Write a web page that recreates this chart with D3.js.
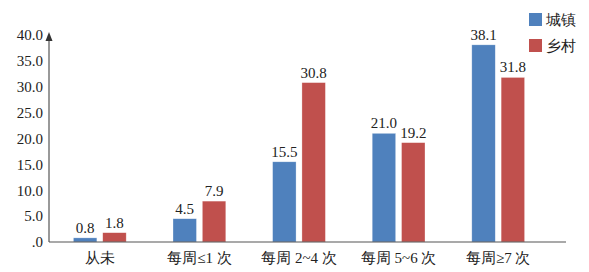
<!DOCTYPE html>
<html>
<head>
<meta charset="utf-8">
<script src="https://cdn.jsdelivr.net/npm/d3@7"></script>
<style>
  body { margin: 0; background: #fff; }
</style>
</head>
<body>
<div id="chart"></div>
<script>
// data
var categories = ['从未', '每周≤1 次', '每周 2~4 次', '每周 5~6 次', '每周≥7 次']
var seriesNames = ['城镇', '乡村']
var urban = [0.8, 4.5, 15.5, 21.0, 38.1]
var rural = [1.8, 7.9, 30.8, 19.2, 31.8]
var yTicks = [0, 5, 10, 15, 20, 25, 30, 35, 40]
var colors = ['#4f81bd', '#c0504d']

var FONT = '"Liberation Serif"'
var width = 589, height = 272

var svg = d3.select('#chart')
  .append('svg')
  .attr('width', width)
  .attr('height', height)

var y = d3.scaleLinear().domain([0, 40]).range([242, 35])
var x0 = d3.scaleBand().domain(categories).range([50, 548]).paddingInner(0.47).paddingOuter(0.235)
var x1 = d3.scaleBand().domain(seriesNames).range([0, x0.bandwidth()]).paddingInner(0.2)

var rows = categories.map(function(c, i) {
  return {cat: c, vals: [urban[i], rural[i]]}
})

// bars
var g = svg.selectAll('g.grp')
  .data(rows)
  .enter().append('g')
  .attr('class', 'grp')
  .attr('transform', function(d) { return 'translate(' + x0(d.cat) + ',0)' })

g.selectAll('rect')
  .data(function(d) { return d.vals.map(function(v, k) { return {k: k, v: v} }) })
  .enter().append('rect')
  .attr('x', function(d) { return x1(seriesNames[d.k]) })
  .attr('y', function(d) { return y(d.v) })
  .attr('width', x1.bandwidth())
  .attr('height', function(d) { return y(0) - y(d.v) })
  .attr('fill', function(d) { return colors[d.k] })
  .attr('stroke', 'rgba(255,255,255,0.5)')
  .attr('stroke-width', 0.6)

g.selectAll('text.val')
  .data(function(d) { return d.vals.map(function(v, k) { return {k: k, v: v} }) })
  .enter().append('text')
  .attr('class', 'val')
  .attr('x', function(d) { return x1(seriesNames[d.k]) + x1.bandwidth() / 2 })
  .attr('y', function(d) { return y(d.v) - 5 })
  .attr('text-anchor', 'middle')
  .style('font-family', FONT)
  .style('font-size', '15px')
  .style('fill', '#222')
  .text(function(d) { return d.v.toFixed(1) })

// y axis
var yAxis = d3.axisLeft(y)
  .tickValues(yTicks)
  .tickSize(0)
  .tickPadding(6)
  .tickFormat(function(d) { return d === 0 ? '.0' : d.toFixed(1) })

var ya = svg.append('g')
  .attr('transform', 'translate(49,0)')
  .call(yAxis)
ya.attr('font-family', null).attr('font-size', null)
ya.select('.domain').remove()
ya.selectAll('text')
  .style('font-family', FONT)
  .style('font-size', '15px')
  .style('fill', '#222')

svg.append('line')
  .attr('x1', 49).attr('x2', 49)
  .attr('y1', y(0)).attr('y2', 36)
  .attr('stroke', '#555').attr('stroke-width', 1.2)
svg.append('path')
  .attr('d', 'M45.5,41 L49,32 L52.5,41 Z')
  .attr('fill', '#333')

// x axis
svg.append('line')
  .attr('x1', 49).attr('x2', 566)
  .attr('y1', y(0)).attr('y2', y(0))
  .attr('stroke', '#555').attr('stroke-width', 1.2)

svg.selectAll('text.cat')
  .data(categories)
  .enter().append('text')
  .attr('class', 'cat')
  .attr('x', function(d) { return x0(d) + x0.bandwidth() / 2 })
  .attr('y', 263)
  .attr('text-anchor', 'middle')
  .style('font-family', FONT)
  .style('font-size', '15px')
  .style('fill', '#222')
  .text(function(d) { return d })

// legend
var lg = svg.selectAll('g.lg')
  .data(seriesNames)
  .enter().append('g')
  .attr('class', 'lg')
  .attr('transform', function(d, i) { return 'translate(529,' + (13 + i * 26) + ')' })
lg.append('rect')
  .attr('width', 13).attr('height', 13)
  .attr('fill', function(d, i) { return colors[i] })
lg.append('text')
  .attr('x', 17).attr('y', 12)
  .style('font-family', FONT)
  .style('font-size', '15px')
  .style('fill', '#222')
  .text(function(d) { return d })
</script>
</body>
</html>
